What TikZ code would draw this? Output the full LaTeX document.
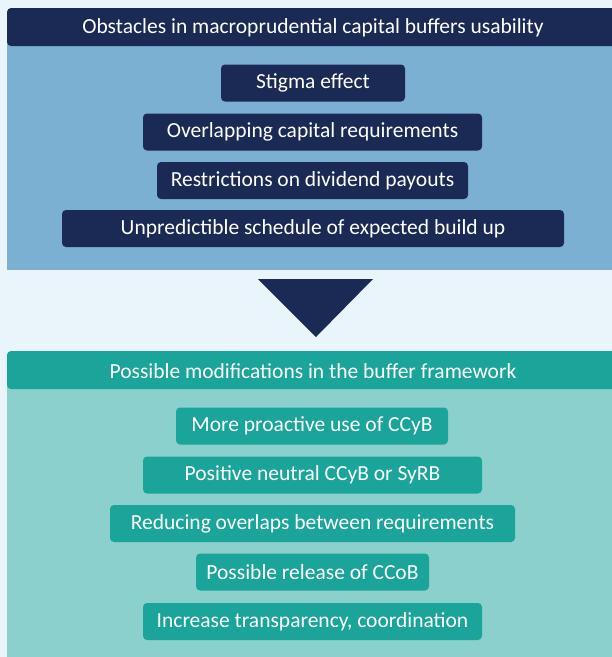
\documentclass[tikz,border=0pt]{standalone}
\usepackage{fontspec}
\setmainfont{Carlito}
\definecolor{bgc}{HTML}{EAF5FB}
\definecolor{navy}{HTML}{1B2A55}
\definecolor{paneblue}{HTML}{7BB0D3}
\definecolor{teal}{HTML}{1BA59A}
\definecolor{paneteal}{HTML}{8BD0CD}
\tikzset{
  txtfont/.style={text=white, font=\fontsize{21.5}{25}\selectfont},
  boxtxt/.style={txtfont, inner sep=0pt, minimum height=37pt, rounded corners=4pt, anchor=center},
  navybox/.style={boxtxt, fill=navy},
  tealbox/.style={boxtxt, fill=teal},
}
\begin{document}
\begin{tikzpicture}[x=1pt,y=-1pt]
\useasboundingbox (0,0) rectangle (612,657);
\clip (0,0) rectangle (612,657);
\fill[bgc] (0,0) rectangle (612,657);
% top panel
\fill[paneblue] (7,40) rectangle (612,270);
\fill[navy, rounded corners=4pt] (7,8) rectangle (630,46);
\node[txtfont] (h1) at (313,28) {Obstacles in macroprudential capital buffers usability};
\node[navybox, minimum width=184pt] (o1) at (313,83) {Stigma effect};
\node[navybox, minimum width=339pt] (o2) at (312.5,132) {Overlapping capital requirements};
\node[navybox, minimum width=311pt] (o3) at (312.5,180.5) {Restrictions on dividend payouts};
\node[navybox, minimum width=502pt] (o4) at (313,228.5) {Unpredictible schedule of expected build up};
% arrow triangle
\fill[navy] (258,279) -- (373,279) -- (316,337) -- cycle;
% bottom panel
\fill[paneteal] (7,380) rectangle (612,660);
\fill[teal, rounded corners=4pt] (7,351) rectangle (630,389);
\node[txtfont] (h2) at (313,371) {Possible modifications in the buffer framework};
\node[tealbox, minimum width=272pt] (m1) at (312,426) {More proactive use of CCyB};
\node[tealbox, minimum width=339pt] (m2) at (312.5,475) {Positive neutral CCyB or SyRB};
\node[tealbox, minimum width=405pt] (m3) at (312.5,523.5) {Reducing overlaps between requirements};
\node[tealbox, minimum width=233pt] (m4) at (312.5,572) {Possible release of CCoB};
\node[tealbox, minimum width=339pt] (m5) at (312.5,621.5) {Increase transparency, coordination};
\end{tikzpicture}
\end{document}
